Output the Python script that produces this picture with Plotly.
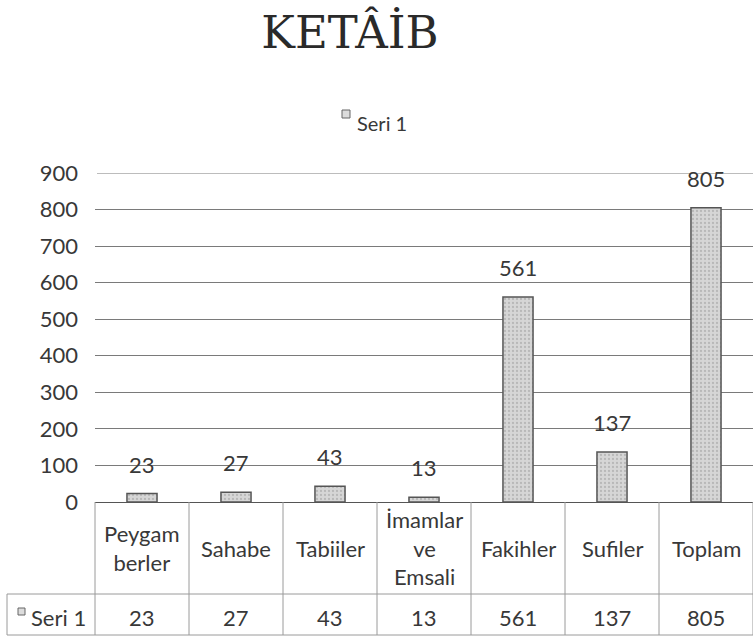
import plotly.graph_objects as go

categories = ["Peygamberler", "Sahabe", "Tabiiler", "İmamlar ve Emsali", "Fakihler", "Sufiler", "Toplam"]
header_labels = ["Peygam<br>berler", "Sahabe", "Tabiiler", "İmamlar<br>ve<br>Emsali", "Fakihler", "Sufiler", "Toplam"]
values = [23, 27, 43, 13, 561, 137, 805]
series_name = "Seri 1"
title_text = "KETÂİB"

FONT = "Lato, 'Open Sans', sans-serif"
TXT = "#383838"
LINE = "#7a7a7a"
TLINE = "#9a9a9a"

L, T, B = 95, 173, 137
W = 753 - L
H = 639 - T - B
Y0 = T + H  # pixel row of value 0


def px_x(px):
    return (px - L) / W


def px_y(py):
    return (Y0 - py) / H


fig = go.Figure()
fig.add_trace(go.Bar(
    x=categories, y=values, name=series_name,
    marker=dict(color="#d6d6d6", line=dict(color="#555555", width=1.5),
                pattern=dict(shape=".", fgcolor="#9a9a9a", size=4, solidity=0.25)),
    showlegend=False,
))

# data labels above bars
for c, v in zip(categories, values):
    fig.add_annotation(x=c, y=v, xref="x", yref="y", text=str(v), showarrow=False,
                       yanchor="bottom", yshift=14, font=dict(family=FONT, size=22, color=TXT))

n = len(categories)
row1_bottom = px_y(594)
row2_bottom = px_y(635)
left_edge = px_x(7)

shapes = []
# top gridline at 900
shapes.append(dict(type="line", xref="paper", yref="y", x0=px_x(97), x1=1, y0=900, y1=900,
                   line=dict(color=LINE, width=1)))
for i in range(n + 1):
    xp = i / n
    shapes.append(dict(type="line", xref="paper", yref="paper", x0=xp, x1=xp, y0=0, y1=row2_bottom,
                       line=dict(color=TLINE, width=1)))
for yv in (row1_bottom, row2_bottom):
    shapes.append(dict(type="line", xref="paper", yref="paper", x0=left_edge, x1=1, y0=yv, y1=yv,
                       line=dict(color=TLINE, width=1)))
shapes.append(dict(type="line", xref="paper", yref="paper", x0=left_edge, x1=left_edge,
                   y0=row1_bottom, y1=row2_bottom, line=dict(color=TLINE, width=1)))
# legend key in table
shapes.append(dict(type="rect", xref="paper", yref="paper", x0=px_x(18), x1=px_x(25),
                   y0=px_y(615), y1=px_y(608), line=dict(color="#666", width=1), fillcolor="#dcdcdc"))
# legend key on top
shapes.append(dict(type="rect", xref="paper", yref="paper", x0=px_x(342), x1=px_x(350),
                   y0=px_y(118), y1=px_y(110), line=dict(color="#666", width=1), fillcolor="#dcdcdc"))
fig.update_layout(shapes=shapes)

# legend text on top
fig.add_annotation(x=px_x(355), xref="paper", y=px_y(123), yref="paper", text=series_name, showarrow=False,
                   xanchor="left", yanchor="middle", font=dict(family=FONT, size=20, color=TXT))

# header labels and values
for c, lab, v in zip(categories, header_labels, values):
    fig.add_annotation(x=c, xref="x", y=px_y(548), yref="paper", text=lab, showarrow=False,
                       yanchor="middle", align="center", font=dict(family=FONT, size=22, color=TXT))
    fig.add_annotation(x=c, xref="x", y=px_y(617), yref="paper", text=str(v), showarrow=False,
                       yanchor="middle", font=dict(family=FONT, size=22, color=TXT))
fig.add_annotation(x=px_x(29), xref="paper", y=px_y(617), yref="paper", text=series_name, showarrow=False,
                   xanchor="left", yanchor="middle", font=dict(family=FONT, size=22, color=TXT))

fig.update_layout(
    width=753, height=639,
    margin=dict(l=L, r=0, t=T, b=B, pad=0),
    paper_bgcolor="white", plot_bgcolor="white",
    title=dict(text=title_text, x=350 / 753, xanchor="center", y=1 - 32 / 639, yanchor="middle",
               font=dict(family="'DejaVu Serif', serif", size=45, color="#2a2a2a")),
    bargap=0.68,
    showlegend=False,
    xaxis=dict(showticklabels=False, showgrid=False, zeroline=False, showline=False, ticks=""),
    yaxis=dict(range=[0, 900], dtick=100, showgrid=True, gridcolor=LINE, gridwidth=1,
               zeroline=True, zerolinecolor="#555", zerolinewidth=1, showline=False,
               ticks="", ticklabelstandoff=16,
               tickfont=dict(family=FONT, size=22, color=TXT)),
)

fig.write_html("out.html", config={"displayModeBar": False},
               post_script="document.body.style.margin='0px';document.body.style.overflow='hidden';")
